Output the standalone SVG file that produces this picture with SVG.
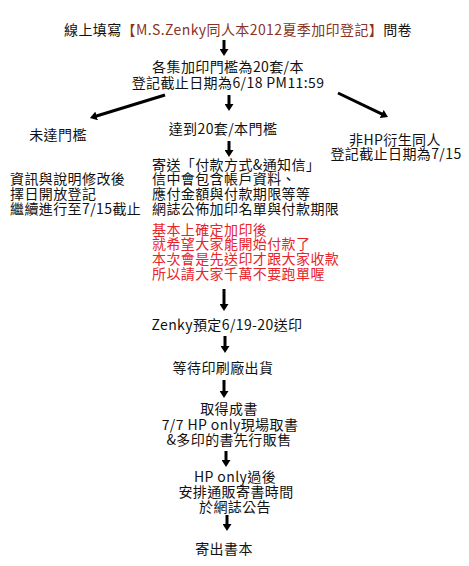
<svg xmlns="http://www.w3.org/2000/svg" width="469" height="566" viewBox="0 0 469 566">
<defs>
<marker id="ah" viewBox="0 0 7 9" refX="1" refY="4.5" markerWidth="7" markerHeight="9" markerUnits="userSpaceOnUse" orient="auto">
<path d="M0,0 L7,4.5 L0,9 z" fill="#000"/>
</marker>
<style>
text{font-family:"Noto Sans CJK TC","Noto Sans CJK SC",sans-serif;font-size:14px;letter-spacing:0.4px;fill:#111}
.c{text-anchor:middle}
.r{fill:#e8242b}
.b{fill:#8a3324}
.a{stroke:#000;stroke-width:3;fill:none;marker-end:url(#ah)}
</style>
</defs>
<rect width="469" height="566" fill="#fff"/>
<g id="connectors">
<line class="a" x1="224" y1="40" x2="224" y2="50"/>
<line class="a" x1="229" y1="95" x2="229" y2="105"/>
<line class="a" x1="229" y1="141" x2="229" y2="151"/>
<line class="a" x1="165" y1="95" x2="95.7" y2="116.2"/>
<line class="a" x1="338" y1="93" x2="382.6" y2="114.4"/>
<line class="a" x1="224" y1="289" x2="224" y2="305"/>
<line class="a" x1="225" y1="336" x2="225" y2="347"/>
<line class="a" x1="224" y1="380" x2="224" y2="392"/>
<line class="a" x1="226" y1="451" x2="226" y2="461"/>
<line class="a" x1="227" y1="515" x2="227" y2="525"/>
</g>
<g id="title"><text class="c" x="238" y="35">線上填寫<tspan class="b">【M.S.Zenky同人本2012夏季加印登記】</tspan>問卷</text></g>
<g id="threshold">
<text class="c" x="228" y="72">各集加印門檻為20套/本</text>
<text class="c" x="228" y="88">登記截止日期為6/18 PM11:59</text>
</g>
<g id="not-reached">
<text class="c" x="58" y="140">未達門檻</text>
<text x="10" y="184">資訊與說明修改後</text>
<text x="10" y="199">擇日開放登記</text>
<text x="10" y="214">繼續進行至7/15截止</text>
</g>
<g id="non-hp">
<text class="c" x="395" y="145">非HP衍生同人</text>
<text class="c" x="396" y="159">登記截止日期為7/15</text>
</g>
<g id="reached">
<text class="c" x="223" y="134">達到20套/本門檻</text>
</g>
<g id="payment">
<text x="152" y="170">寄送「付款方式&amp;通知信」</text>
<text x="152" y="184">信中會包含帳戶資料、</text>
<text x="152" y="199">應付金額與付款期限等等</text>
<text x="152" y="214">網誌公佈加印名單與付款期限</text>
<text class="r" x="152" y="235">基本上確定加印後</text>
<text class="r" x="152" y="249">就希望大家能開始付款了</text>
<text class="r" x="152" y="264">本次會是先送印才跟大家收款</text>
<text class="r" x="152" y="279">所以請大家千萬不要跑單喔</text>
</g>
<g id="print"><text class="c" x="227" y="330">Zenky預定6/19-20送印</text></g>
<g id="wait"><text class="c" x="223" y="373">等待印刷廠出貨</text></g>
<g id="get-books">
<text class="c" x="229" y="414">取得成書</text>
<text class="c" x="230" y="430">7/7 HP only現場取書</text>
<text class="c" x="229" y="445">&amp;多印的書先行販售</text>
</g>
<g id="after-hp">
<text class="c" x="235" y="482">HP only過後</text>
<text class="c" x="236" y="497">安排通販寄書時間</text>
<text class="c" x="235" y="512">於網誌公告</text>
</g>
<g id="ship"><text class="c" x="224" y="554">寄出書本</text></g>
</svg>
